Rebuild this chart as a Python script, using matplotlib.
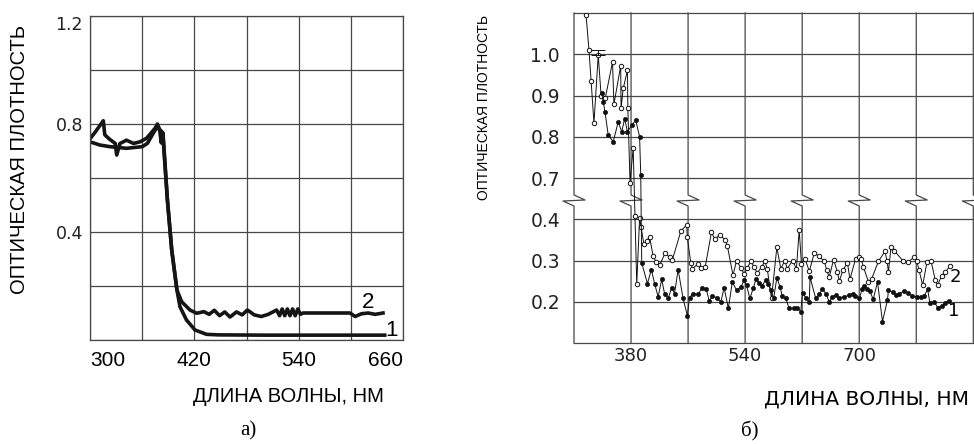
import numpy as np
import matplotlib
matplotlib.use('Agg')
import matplotlib.pyplot as plt

# ---- panel a: optical density vs wavelength ----
a_x1 = [300, 311.5, 323, 342, 360, 366, 372.6, 377.5, 380, 384, 389, 394, 400,
        403.5, 411, 420.8, 434, 447.6, 500, 560, 639]
a_y1 = [0.734, 0.722, 0.716, 0.71, 0.716, 0.728, 0.765, 0.79, 0.78, 0.767, 0.52,
        0.333, 0.185, 0.123, 0.074, 0.037, 0.021, 0.019, 0.018, 0.018, 0.018]

a_x2 = [300, 306, 315.3, 317, 322, 329, 330.7, 334.5, 342, 350, 357.5, 365, 374.8,
        377.5, 380, 382, 383.6, 389, 394, 400, 405.4, 415, 422.7, 431, 437, 443,
        449, 455, 461, 468.5, 475, 481, 489, 497, 505, 514.6, 518, 521, 524, 527,
        530, 533, 536, 539, 542, 545, 560, 580, 599, 605, 612, 620, 628, 637]
a_y2 = [0.745, 0.77, 0.812, 0.76, 0.745, 0.728, 0.685, 0.728, 0.74, 0.728, 0.734,
        0.747, 0.784, 0.80, 0.78, 0.73, 0.767, 0.52, 0.333, 0.185, 0.142, 0.111,
        0.099, 0.105, 0.095, 0.11, 0.09, 0.104, 0.085, 0.104, 0.093, 0.111, 0.093,
        0.087, 0.095, 0.111, 0.09, 0.115, 0.09, 0.115, 0.09, 0.115, 0.09, 0.115,
        0.095, 0.10, 0.10, 0.10, 0.10, 0.087, 0.097, 0.10, 0.095, 0.10]

a_xticks = [300, 360, 420, 480, 540, 600, 660]
a_xlabels = ['300', '', '420', '', '540', '', '660']
a_yticks = [0.0, 0.2, 0.4, 0.6, 0.8, 1.0, 1.2]
a_ylabels = ['', '', '0.4', '', '0.8', '', '1.2']

# ---- panel b: broken axis ----
b_x2 = [317, 321, 324, 328, 334, 338, 344, 354, 356, 365.5, 366, 369, 375, 375.5,
        378.6, 383, 385.5, 388, 392, 394, 398, 402, 406, 411, 415.5, 420, 427.7,
        434, 438, 450, 458, 459, 463.8, 466, 474, 478.7, 484, 492.7, 497.5, 504.5,
        512, 515, 523, 528, 534, 538.6, 543, 548, 552.6, 557, 563, 567.6, 571, 577,
        584.5, 590, 595.7, 599, 606.5, 612, 615.8, 619, 624, 630, 637, 644, 651,
        654.6, 658, 664, 669.5, 672, 677.5, 683.5, 687, 695, 700, 702.5, 706, 713,
        717.5, 727, 736, 739, 741, 744.5, 749, 762, 768, 777, 780.5, 784, 789, 795,
        800.6, 806.7, 810, 815.6, 820.7, 827]
b_y2 = [1.094, 1.010, 0.935, 0.833, 0.998, 0.900, 0.895, 0.981, 0.879, 0.972, 0.869,
        0.917, 0.961, 0.870, 0.667, 0.773, 0.424, 0.242, 0.410, 0.382, 0.340, 0.348,
        0.358, 0.310, 0.296, 0.288, 0.318, 0.308, 0.302, 0.372, 0.386, 0.356, 0.294,
        0.280, 0.292, 0.282, 0.284, 0.368, 0.352, 0.362, 0.350, 0.336, 0.264, 0.300,
        0.282, 0.268, 0.282, 0.298, 0.284, 0.270, 0.284, 0.298, 0.280, 0.208, 0.332,
        0.280, 0.300, 0.280, 0.300, 0.280, 0.374, 0.292, 0.304, 0.274, 0.318, 0.310,
        0.298, 0.276, 0.260, 0.302, 0.272, 0.250, 0.278, 0.294, 0.255, 0.304, 0.308,
        0.304, 0.284, 0.248, 0.256, 0.298, 0.322, 0.300, 0.272, 0.332, 0.324, 0.298,
        0.296, 0.308, 0.300, 0.276, 0.240, 0.296, 0.300, 0.252, 0.240, 0.263, 0.272,
        0.286]

b_x1 = [339, 341, 343.5, 348, 355, 362, 367, 371, 375, 381, 386.6, 392, 393.6, 395,
        403, 408.5, 413, 418, 423, 427, 432, 437, 441, 446, 453, 459, 462, 467, 474,
        480, 485.7, 489.5, 494, 500, 506, 510.5, 516.5, 522, 528, 534, 538.6, 542,
        546.6, 551.6, 555, 559.6, 563, 569, 572, 576, 580, 584.5, 589, 592, 597,
        601.7, 608.8, 613.4, 618, 620.5, 625, 630, 631, 639, 644, 648.5, 653, 658,
        662.5, 667, 672, 679, 686, 690.6, 694, 700, 704, 707, 711, 715, 719.6, 725.7,
        732.6, 739.6, 741, 746.7, 751, 756, 763, 768.6, 774.7, 781, 786.5, 791, 796,
        799, 805, 810, 815.6, 820.7, 826]
b_y1 = [0.906, 0.885, 0.860, 0.804, 0.788, 0.836, 0.812, 0.844, 0.812, 0.828, 0.840,
        0.800, 0.707, 0.294, 0.244, 0.278, 0.244, 0.212, 0.254, 0.220, 0.208, 0.234,
        0.220, 0.278, 0.208, 0.166, 0.210, 0.220, 0.218, 0.234, 0.230, 0.202, 0.214,
        0.210, 0.200, 0.234, 0.184, 0.248, 0.228, 0.236, 0.252, 0.240, 0.208, 0.234,
        0.254, 0.246, 0.238, 0.252, 0.244, 0.228, 0.208, 0.258, 0.236, 0.214, 0.208,
        0.184, 0.184, 0.186, 0.176, 0.222, 0.210, 0.200, 0.260, 0.208, 0.218, 0.232,
        0.220, 0.200, 0.212, 0.216, 0.210, 0.212, 0.216, 0.220, 0.214, 0.208, 0.230,
        0.238, 0.232, 0.225, 0.206, 0.248, 0.152, 0.204, 0.228, 0.224, 0.216, 0.220,
        0.226, 0.222, 0.214, 0.212, 0.212, 0.214, 0.230, 0.198, 0.200, 0.186, 0.190,
        0.198, 0.202]

b_err_x = [334]
b_err_y = [0.998]
b_err_up = [0.012]

b_xticks = [380, 540, 700]
b_yticks = [0.2, 0.3, 0.4, 0.7, 0.8, 0.9, 1.0]
b_ylabels = ['0.2', '0.3', '0.4', '0.7', '0.8', '0.9', '1.0']
b_gridx = [300, 380, 460, 540, 620, 700, 780, 860]


def fwd(v):
    v = np.asarray(v, dtype=float)
    return np.where(v <= 0.4, v, np.where(v >= 0.7, v - 0.2, 0.4 + (v - 0.4) / 3))


def inv(p):
    p = np.asarray(p, dtype=float)
    return np.where(p <= 0.4, p, np.where(p >= 0.5, p + 0.2, 0.4 + (p - 0.4) * 3))


W, H = 974, 444
fig = plt.figure(figsize=(W / 100, H / 100), dpi=100)
gridc = '#474747'

# ---------------- panel a ----------------
ax1 = fig.add_axes([90 / W, 1 - 340 / H, 313 / W, 324 / H])
ax1.plot(a_x1, a_y1, color='#151515', lw=2.6, solid_joinstyle='round')
ax1.plot(a_x2, a_y2, color='#151515', lw=2.6, solid_joinstyle='round')
ax1.set_xlim(300, 660)
ax1.set_ylim(0, 1.2)
ax1.set_xticks(a_xticks)
ax1.set_xticklabels(a_xlabels, family='Liberation Sans', fontsize=15)
ax1.set_yticks(a_yticks)
ax1.set_yticklabels(a_ylabels, family='DejaVu Sans', fontsize=12.5, color='#222')
ax1.tick_params(length=0, axis='x', pad=8)
ax1.tick_params(length=0, axis='y', pad=5)
xl = ax1.get_xticklabels()
xl[0].set_horizontalalignment('left')
xl[-1].set_horizontalalignment('right')
ax1.get_yticklabels()[-1].set_verticalalignment('top')
ax1.grid(True, color=gridc, lw=0.9)
for s in ax1.spines.values():
    s.set_color(gridc)
    s.set_linewidth(0.9)
ax1.text(620, 0.14, '2', family='Liberation Sans', fontsize=16, ha='center', va='center')
ax1.text(647, 0.037, '1', family='Liberation Sans', fontsize=16, ha='center', va='center')

fig.text(20 / W, 1 - 160 / H, 'ОПТИЧЕСКАЯ ПЛОТНОСТЬ', rotation=90, ha='center',
         va='center', family='Liberation Sans', fontsize=14.5)
fig.text(288 / W, 1 - 396 / H, 'ДЛИНА ВОЛНЫ, НМ', ha='center', va='center',
         family='Liberation Sans', fontsize=14.5)
fig.text(248 / W, 1 - 431 / H, 'а)', ha='center', va='center',
         family='Liberation Serif', fontsize=15)

# ---------------- panel b ----------------
ax2 = fig.add_axes([574 / W, 1 - 343 / H, 399.3 / W, 330 / H])
ax2.set_yscale('function', functions=(fwd, inv))
ax2.set_xlim(300, 860)
ax2.set_ylim(0.1, 1.1)
ax2.set_yticks(b_yticks)
ax2.set_yticklabels(b_ylabels, family='DejaVu Sans', fontsize=13.5, color='#222')
ax2.set_xticks(b_xticks)
ax2.set_xticklabels([str(v) for v in b_xticks], family='DejaVu Sans', fontsize=13,
                    color='#222')
ax2.tick_params(length=0, axis='y', pad=10)
ax2.tick_params(length=0, axis='x', pad=3)
ax2.yaxis.set_minor_locator(matplotlib.ticker.NullLocator())
ax2.grid(True, axis='y', color=gridc, lw=0.9)
ax2.spines['left'].set_visible(False)
ax2.spines['right'].set_visible(False)
for s in ('top', 'bottom'):
    ax2.spines[s].set_color(gridc)
    ax2.spines[s].set_linewidth(0.9)

# vertical grid lines with break marks
tr = ax2.get_xaxis_transform()
b_top, b_m1, b_m2, b_bot = (343 - 195) / 330, (343 - 200) / 330, (343 - 201) / 330, (343 - 206) / 330
dx = 11 * 80 / 57.04
for gx in b_gridx:
    ax2.plot([gx, gx, gx + dx, gx - dx, gx, gx], [1, b_top, b_m1, b_m2, b_bot, 0],
             transform=tr, color=gridc, lw=0.9, clip_on=False, zorder=1)

ax2.plot(b_x2, b_y2, color='#111', lw=0.7, marker='o', ms=3.2, mfc='white',
         mec='#111', mew=0.7, zorder=3)
ax2.plot(b_x1, b_y1, color='#111', lw=0.7, marker='o', ms=3.0, mfc='#111',
         mec='#111', mew=0.5, zorder=3)
ax2.errorbar(b_err_x, b_err_y, yerr=[[0], b_err_up], fmt='none', ecolor='#111',
             elinewidth=0.7, capsize=5, capthick=0.7, zorder=3)
ax2.text(835, 0.259, '2', family='DejaVu Sans', fontsize=13, ha='center', va='center')
ax2.text(832, 0.177, '1', family='DejaVu Sans', fontsize=13, ha='center', va='center')

fig.text(484 / W, 1 - 107 / H, 'ОПТИЧЕСКАЯ ПЛОТНОСТЬ', rotation=90, ha='center',
         va='center', family=['Liberation Sans Narrow', 'Liberation Sans'], fontsize=10)
fig.text(867 / W, 1 - 399 / H, 'ДЛИНА ВОЛНЫ, НМ', ha='center', va='center',
         family='DejaVu Sans', fontsize=14.5)
fig.text(750 / W, 1 - 431 / H, 'б)', ha='center', va='center',
         family='Liberation Serif', fontsize=15)

fig.savefig('out.png', dpi=100)
